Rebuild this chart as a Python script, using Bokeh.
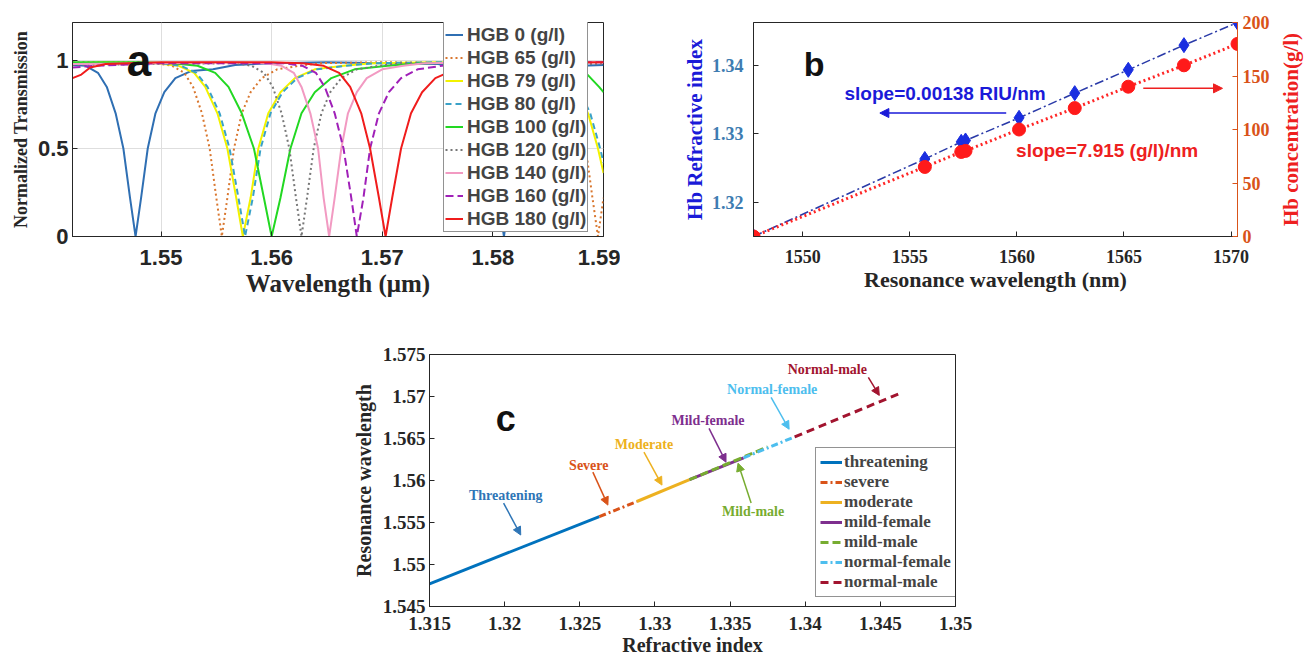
import math
from bokeh.plotting import figure
from bokeh.models import (Range1d, LinearAxis, Legend, LegendItem, Label, Arrow,
                          NormalHead, FixedTicker, CustomJSTickFormatter)
from bokeh.layouts import column, row
from bokeh.embed import file_html
from bokeh.resources import INLINE

SANS = "Liberation Sans"
SERIF = "Liberation Serif"
DARK = "#262626"

# ---------------- Panel a: transmission spectra (wavelength in um) ----------------
wl_hgb0 = [1.5420, 1.5432, 1.5443, 1.5451, 1.5459, 1.5466, 1.5472, 1.5477, 1.5482, 1.5488, 1.5495, 1.5503,
           1.5513, 1.5527, 1.5547, 1.5567, 1.5600, 1.5650, 1.5700, 1.5750, 1.5765, 1.5776, 1.5784, 1.5792,
           1.5799, 1.5805, 1.5810, 1.5815, 1.5821, 1.5828, 1.5836, 1.5846, 1.5860, 1.5880, 1.5900]
tr_hgb0 = [0.975, 0.97, 0.93, 0.85, 0.70, 0.50, 0.22, 0.0, 0.22, 0.50, 0.70, 0.82,
           0.90, 0.94, 0.95, 0.975, 0.985, 0.99, 0.985, 0.98, 0.97, 0.93, 0.85, 0.70,
           0.50, 0.22, 0.0, 0.22, 0.50, 0.70, 0.82, 0.90, 0.95, 0.97, 0.975]

wl_hgb65 = [1.5420, 1.5480, 1.5495, 1.5510, 1.5521, 1.5529, 1.5537, 1.5544, 1.5550, 1.5555, 1.5560, 1.5566,
            1.5573, 1.5581, 1.5591, 1.5605, 1.5625, 1.5645, 1.5700, 1.5800, 1.5850, 1.5861, 1.5869, 1.5877,
            1.5884, 1.5890, 1.5895, 1.5900]
tr_hgb65 = [0.99, 0.99, 0.985, 0.97, 0.93, 0.85, 0.70, 0.50, 0.22, 0.0, 0.22, 0.50,
            0.70, 0.82, 0.90, 0.95, 0.97, 0.985, 0.99, 0.985, 0.97, 0.93, 0.85, 0.70,
            0.50, 0.22, 0.0, 0.22]

wl_hgb79 = [1.5420, 1.5450, 1.5496, 1.5516, 1.5530, 1.5540, 1.5551, 1.5560, 1.5568, 1.5574, 1.5581, 1.5588,
            1.5597, 1.5608, 1.5621, 1.5639, 1.5665, 1.5691, 1.5750, 1.5831, 1.5851, 1.5865, 1.5875, 1.5886,
            1.5895, 1.5900]
tr_hgb79 = [0.985, 0.99, 0.985, 0.97, 0.93, 0.85, 0.70, 0.50, 0.22, 0.0, 0.22, 0.50,
            0.70, 0.82, 0.90, 0.95, 0.97, 0.985, 0.99, 0.985, 0.97, 0.93, 0.85, 0.70,
            0.50, 0.36]

wl_hgb80 = [1.5420, 1.5450, 1.5498, 1.5518, 1.5532, 1.5542, 1.5553, 1.5562, 1.5570, 1.5576, 1.5583, 1.5590,
            1.5599, 1.5610, 1.5623, 1.5641, 1.5667, 1.5693, 1.5750, 1.5833, 1.5853, 1.5867, 1.5877, 1.5888,
            1.5897, 1.5900]
tr_hgb80 = [0.98, 0.985, 0.985, 0.97, 0.93, 0.85, 0.70, 0.50, 0.22, 0.0, 0.22, 0.50,
            0.70, 0.82, 0.90, 0.95, 0.97, 0.985, 0.99, 0.985, 0.97, 0.93, 0.85, 0.70,
            0.50, 0.42]

wl_hgb100 = [1.5420, 1.5480, 1.5510, 1.5533, 1.5549, 1.5561, 1.5573, 1.5584, 1.5593, 1.5600, 1.5608, 1.5617,
             1.5627, 1.5639, 1.5654, 1.5675, 1.5705, 1.5735, 1.5800, 1.5845, 1.5868, 1.5884, 1.5896, 1.5900]
tr_hgb100 = [0.99, 0.99, 0.985, 0.97, 0.93, 0.85, 0.70, 0.50, 0.22, 0.0, 0.22, 0.50,
             0.70, 0.82, 0.90, 0.95, 0.97, 0.985, 0.99, 0.985, 0.97, 0.93, 0.85, 0.82]

wl_hgb120 = [1.5420, 1.5500, 1.5567, 1.5582, 1.5593, 1.5601, 1.5609, 1.5616, 1.5622, 1.5627, 1.5632, 1.5638,
             1.5645, 1.5653, 1.5663, 1.5677, 1.5697, 1.5717, 1.5800, 1.5900]
tr_hgb120 = [0.975, 0.98, 0.985, 0.97, 0.93, 0.85, 0.70, 0.50, 0.22, 0.0, 0.22, 0.50,
             0.70, 0.82, 0.90, 0.95, 0.97, 0.985, 0.985, 0.98]

wl_hgb140 = [1.5420, 1.5500, 1.5560, 1.5595, 1.5609, 1.5620, 1.5627, 1.5635, 1.5642, 1.5647, 1.5652, 1.5657,
             1.5663, 1.5669, 1.5677, 1.5686, 1.5700, 1.5719, 1.5738, 1.5800, 1.5900]
tr_hgb140 = [0.98, 0.985, 0.99, 0.985, 0.97, 0.93, 0.85, 0.70, 0.50, 0.22, 0.0, 0.22,
             0.50, 0.70, 0.82, 0.90, 0.95, 0.97, 0.985, 0.99, 0.99]

wl_hgb160 = [1.5420, 1.5440, 1.5500, 1.5611, 1.5628, 1.5640, 1.5648, 1.5657, 1.5665, 1.5672, 1.5677, 1.5683,
             1.5689, 1.5697, 1.5706, 1.5717, 1.5732, 1.5754, 1.5776, 1.5850, 1.5900]
tr_hgb160 = [0.96, 0.97, 0.985, 0.985, 0.97, 0.93, 0.85, 0.70, 0.50, 0.22, 0.0, 0.22,
             0.50, 0.70, 0.82, 0.90, 0.95, 0.97, 0.985, 0.99, 0.99]

wl_hgb180 = [1.5420, 1.5428, 1.5436, 1.5450, 1.5500, 1.5560, 1.5600, 1.5628, 1.5647, 1.5661, 1.5671, 1.5681,
             1.5689, 1.5697, 1.5703, 1.5709, 1.5717, 1.5726, 1.5736, 1.5748, 1.5766, 1.5791, 1.5816, 1.5900]
tr_hgb180 = [0.90, 0.92, 0.96, 0.98, 0.99, 0.99, 0.99, 0.985, 0.97, 0.93, 0.85, 0.70,
             0.50, 0.22, 0.0, 0.22, 0.50, 0.70, 0.82, 0.90, 0.95, 0.97, 0.985, 0.99]

hgb_labels = ["HGB 0 (g/l)", "HGB 65 (g/l)", "HGB 79 (g/l)", "HGB 80 (g/l)", "HGB 100 (g/l)",
              "HGB 120 (g/l)", "HGB 140 (g/l)", "HGB 160 (g/l)", "HGB 180 (g/l)"]
hgb_colors = ["#2f6fb3", "#d9772f", "#f2f200", "#3aa2c8", "#22d822", "#777777", "#f29ac2", "#a020b8", "#f01c1c"]
hgb_dashes = ["solid", "2 3", "solid", "6 4", "solid", "2 3", "solid", "8 4", "solid"]
a_xticks = [1.55, 1.56, 1.57, 1.58, 1.59]
a_yticks = [0, 0.5, 1]

# ---------------- Panel b: calibration ----------------
wl_nm = [1547.7, 1555.7, 1557.4, 1557.6, 1560.1, 1562.7, 1565.2, 1567.8, 1570.3]
ri = [1.3150, 1.3263, 1.3288, 1.3290, 1.3323, 1.3359, 1.3393, 1.3429, 1.3462]
conc = [0, 65, 79, 80, 100, 120, 140, 160, 180]
b_xticks = [1550, 1555, 1560, 1565, 1570]
b_yticks = [1.32, 1.33, 1.34]
b_y2ticks = [0, 50, 100, 150, 200]

# ---------------- Panel c: classification segments ----------------
seg_names = ["threatening", "severe", "moderate", "mild-female", "mild-male", "normal-female", "normal-male"]
seg_ri_start = [1.3150, 1.3263, 1.3288, 1.3323, 1.3323, 1.3359, 1.3393]
seg_ri_end = [1.3263, 1.3288, 1.3323, 1.3359, 1.3375, 1.3393, 1.3462]
seg_wl_start = [1.5477, 1.5557, 1.5575, 1.5601, 1.5601, 1.5627, 1.5652]
seg_wl_end = [1.5557, 1.5575, 1.5601, 1.5627, 1.5640, 1.5652, 1.5703]
seg_colors = ["#0072BD", "#D95319", "#EDB120", "#7E2F8E", "#77AC30", "#4DBEEE", "#A2142F"]
seg_dashes = ["solid", "7 3 2 3", "solid", "solid", "8 4", "7 3 2 3", "8 5"]
c_xticks = [1.315, 1.32, 1.325, 1.33, 1.335, 1.34, 1.345, 1.35]
c_yticks = [1.545, 1.55, 1.555, 1.56, 1.565, 1.57, 1.575]


def fmt():
    return CustomJSTickFormatter(code="return String(tick);")


def style_ax(ax, ticks, font, size, color=DARK, lfont=SERIF, lsize="18px", lcolor=DARK,
             standoff=6, lstandoff=6, line_color=DARK):
    ax.ticker = FixedTicker(ticks=ticks)
    ax.formatter = fmt()
    ax.major_label_text_font = font
    ax.major_label_text_font_style = "bold"
    ax.major_label_text_font_size = size
    ax.major_label_text_color = color
    ax.axis_label_text_font = lfont
    ax.axis_label_text_font_style = "bold"
    ax.axis_label_text_font_size = lsize
    ax.axis_label_text_color = lcolor
    ax.major_tick_in = 5
    ax.major_tick_out = 0
    ax.minor_tick_in = 0
    ax.minor_tick_out = 0
    ax.axis_line_color = line_color
    ax.major_tick_line_color = line_color
    ax.major_label_standoff = standoff
    ax.axis_label_standoff = lstandoff


# ================= Panel a =================
pa = figure(width=620, height=303, x_range=Range1d(1.542, 1.59), y_range=Range1d(0, 1.216),
            output_backend="svg", toolbar_location=None,
            min_border_left=72, min_border_right=17, min_border_top=22, min_border_bottom=67)
pa.outline_line_color = DARK
pa.xaxis.axis_label = "Wavelength (μm)"
pa.yaxis.axis_label = "Normalized Transmission"
style_ax(pa.xaxis[0], a_xticks, SANS, "22px", lsize="25px", standoff=13, lstandoff=2)
style_ax(pa.yaxis[0], a_yticks, SANS, "22px", lsize="18px", standoff=4, lstandoff=4)
pa.xgrid.ticker = FixedTicker(ticks=a_xticks)
pa.ygrid.ticker = FixedTicker(ticks=a_yticks)
pa.xgrid.grid_line_color = "#dedede"
pa.ygrid.grid_line_color = "#dedede"

a_wls = [wl_hgb0, wl_hgb65, wl_hgb79, wl_hgb80, wl_hgb100, wl_hgb120, wl_hgb140, wl_hgb160, wl_hgb180]
a_trs = [tr_hgb0, tr_hgb65, tr_hgb79, tr_hgb80, tr_hgb100, tr_hgb120, tr_hgb140, tr_hgb160, tr_hgb180]
items_a = []
for lab, xs, ys, col, dash in zip(hgb_labels, a_wls, a_trs, hgb_colors, hgb_dashes):
    r = pa.line(xs, ys, line_color=col, line_width=2, line_dash=dash)
    items_a.append(LegendItem(label=lab, renderers=[r]))

leg_a = Legend(items=items_a, location=(371, 4), label_text_font=SANS, label_text_font_style="bold",
               label_text_font_size="19px", label_height=23, glyph_height=23, glyph_width=18,
               spacing=0, padding=1, margin=0, label_standoff=4, border_line_color=DARK,
               border_line_width=1, background_fill_alpha=1.0)
pa.add_layout(leg_a)
pa.add_layout(Label(x=1.5469, y=1.0, text="a", text_font=SANS, text_font_style="bold",
                    text_font_size="44px", text_color="#111111", text_baseline="alphabetic"))

# ================= Panel b =================
pb = figure(width=655, height=303, x_range=Range1d(1547.7, 1570.3), y_range=Range1d(1.315, 1.3462),
            output_backend="svg", toolbar_location=None,
            min_border_left=133, min_border_right=38, min_border_top=13, min_border_bottom=66)
pb.outline_line_color = DARK
pb.xgrid.visible = False
pb.ygrid.visible = False
pb.extra_y_ranges = {"conc": Range1d(0, 200)}
pb.xaxis.axis_label = "Resonance wavelength (nm)"
pb.yaxis.axis_label = "Hb Refractive index"
style_ax(pb.xaxis[0], b_xticks, SERIF, "18px", lsize="22px", standoff=13, lstandoff=1)
style_ax(pb.yaxis[0], b_yticks, SERIF, "18px", color="#3E7CB1", lsize="21px", lcolor="#1a1ad8",
         standoff=10, lstandoff=2)
ax_r = LinearAxis(y_range_name="conc")
style_ax(ax_r, b_y2ticks, SERIF, "18px", color="#D95319", standoff=5, line_color="#D95319")
pb.add_layout(ax_r, "right")

pb.line(wl_nm, ri, line_color="#2a3aa8", line_width=1.5, line_dash="9 3 2 3")
pb.scatter(wl_nm, ri, marker="diamond", size=15, fill_color="#1a2ee0", line_color="#1a2ee0")
pb.line(wl_nm, conc, y_range_name="conc", line_color="#ff2626", line_width=3, line_dash="2 3")
pb.scatter(wl_nm, conc, y_range_name="conc", marker="circle", size=13, fill_color="#ff1a1a",
           line_color="#ff1a1a")

pb.add_layout(Label(x=1550.05, y=1.3401, text="b", text_font=SANS, text_font_style="bold",
                    text_font_size="34px", text_color="#111111", text_baseline="alphabetic"))
pb.add_layout(Label(x=1551.95, y=1.3359, text="slope=0.00138 RIU/nm", text_font=SANS,
                    text_font_style="bold", text_font_size="19px", text_color="#1a1ad8",
                    text_baseline="middle"))
pb.add_layout(Label(x=1559.96, y=1.3276, text="slope=7.915 (g/l)/nm", text_font=SANS,
                    text_font_style="bold", text_font_size="19px", text_color="#ee2020",
                    text_baseline="middle"))
pb.add_layout(Arrow(end=NormalHead(size=9, fill_color="#1a1ad8", line_color="#1a1ad8"),
                    x_start=1559.5, y_start=1.3330, x_end=1553.6, y_end=1.3330,
                    line_color="#1a1ad8", line_width=1.5))
pb.add_layout(Arrow(end=NormalHead(size=9, fill_color="#ee2020", line_color="#ee2020"),
                    x_start=1565.9, y_start=1.3366, x_end=1569.6, y_end=1.3366,
                    line_color="#ee2020", line_width=1.5))

# narrow companion holding the right-hand axis title of panel b (reads bottom-to-top)
pr = figure(width=30, height=303, x_range=Range1d(0, 1), y_range=Range1d(0, 200),
            output_backend="svg", toolbar_location=None,
            min_border_left=27, min_border_right=0, min_border_top=13, min_border_bottom=66)
pr.outline_line_color = None
pr.xgrid.visible = False
pr.ygrid.visible = False
pr.xaxis.visible = False
pr.yaxis.ticker = FixedTicker(ticks=[])
pr.yaxis.axis_line_color = None
pr.yaxis.major_tick_line_color = None
pr.yaxis.minor_tick_line_color = None
pr.yaxis.axis_label = "Hb concentration(g/l)"
pr.yaxis.axis_label_text_font = SERIF
pr.yaxis.axis_label_text_font_style = "bold"
pr.yaxis.axis_label_text_font_size = "21px"
pr.yaxis.axis_label_text_color = "#ee2020"
pr.yaxis.axis_label_standoff = 2

# ================= Panel c =================
pc = figure(width=1297, height=357, x_range=Range1d(1.315, 1.35), y_range=Range1d(1.545, 1.575),
            output_backend="svg", toolbar_location=None,
            min_border_left=429, min_border_right=342, min_border_top=51, min_border_bottom=54)
pc.outline_line_color = DARK
pc.xgrid.visible = False
pc.ygrid.visible = False
pc.xaxis.axis_label = "Refractive index"
pc.yaxis.axis_label = "Resonance wavelength"
style_ax(pc.xaxis[0], c_xticks, SERIF, "19px", lsize="20px", standoff=10, lstandoff=1)
style_ax(pc.yaxis[0], c_yticks, SERIF, "19px", lsize="20px", standoff=4, lstandoff=5)

items_c = []
for nm, x0, x1, y0, y1, col, dash in zip(seg_names, seg_ri_start, seg_ri_end, seg_wl_start, seg_wl_end,
                                         seg_colors, seg_dashes):
    r = pc.line([x0, x1], [y0, y1], line_color=col, line_width=3, line_dash=dash)
    items_c.append(LegendItem(label=nm, renderers=[r]))

leg_c = Legend(items=items_c, location=(386, 9), label_text_font=SERIF, label_text_font_style="bold",
               label_text_font_size="17px", label_height=18, glyph_height=18, glyph_width=22,
               spacing=0, padding=4, margin=0, label_standoff=2, border_line_color=DARK,
               border_line_width=1, background_fill_alpha=1.0)
pc.add_layout(leg_c)

pc.add_layout(Label(x=1.3194, y=1.5674, text="c", text_font=SANS, text_font_style="bold",
                    text_font_size="36px", text_color="#111111", text_baseline="alphabetic"))

ann = [
    ("Threatening", "#2E75B6", 1.32007, 1.55826, 1.31993, 1.55731, 1.32107, 1.55351),
    ("Severe", "#D95319", 1.3256, 1.56182, 1.32587, 1.56099, 1.32687, 1.55707),
    ("Moderate", "#EDB120", 1.32927, 1.56432, 1.32927, 1.56337, 1.33047, 1.55945),
    ("Mild-female", "#7E2F8E", 1.33353, 1.56716, 1.3336, 1.56621, 1.33473, 1.56218),
    ("Mild-male", "#77AC30", 1.33653, 1.55636, 1.3364, 1.55731, 1.33553, 1.56206),
    ("Normal-female", "#4DBEEE", 1.3378, 1.57084, 1.33773, 1.5699, 1.33893, 1.5661),
    ("Normal-male", "#A2142F", 1.34147, 1.57322, 1.3442, 1.57227, 1.34493, 1.57013),
]
for txt, col, tx, ty, xs, ys, xe, ye in ann:
    pc.add_layout(Label(x=tx, y=ty, text=txt, text_font=SERIF, text_font_style="bold",
                        text_font_size="14px", text_color=col, text_align="center",
                        text_baseline="middle"))
    pc.add_layout(Arrow(end=NormalHead(size=8, fill_color=col, line_color=col),
                        x_start=xs, y_start=ys, x_end=xe, y_end=ye, line_color=col, line_width=1.5))

layout = column(row(pa, pb, pr), pc)
open("out.html", "w").write(file_html(layout, INLINE))
